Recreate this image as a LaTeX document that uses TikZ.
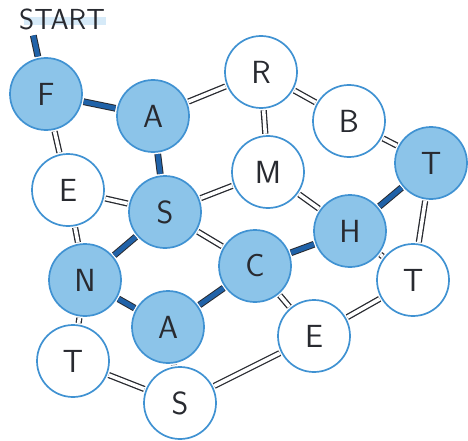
\documentclass[tikz,border=0pt]{standalone}
\usepackage{fontspec}
\definecolor{fillblue}{RGB}{140,196,233}
\definecolor{lineblue}{RGB}{64,146,210}
\definecolor{barblue}{RGB}{32,98,168}
\definecolor{ink}{RGB}{40,42,48}
\definecolor{hilite}{RGB}{214,234,248}
\tikzset{
  letter/.style={circle, minimum size=72pt, inner sep=0pt, draw=lineblue, line width=1.7pt,
    font=\fontsize{32}{32}\selectfont\sffamily, text=ink},
  onpath/.style={letter, fill=fillblue},
  offpath/.style={letter, fill=white},
  dbl/.style={draw=ink, line width=1.3pt, double=white, double distance=3.6pt,
    shorten <=1.5pt, shorten >=1.5pt},
  pathbar/.style={draw=ink, line width=1pt, double=barblue, double distance=4.8pt,
    shorten <=1.5pt, shorten >=1.5pt}
}
\begin{document}
\begin{tikzpicture}[x=1pt,y=-1pt]
\useasboundingbox (0,0) rectangle (468,441);
\fill[hilite] (24,17) rectangle (106,25);
\node[font=\fontsize{29}{29}\selectfont\sffamily, text=ink, inner sep=0pt] (start) at (62,19) {START};
\coordinate (s0) at (33,34);
% nodes
\node[onpath]  (F)  at (46,94)   {F};
\node[onpath]  (A1) at (153,116) {A};
\node[offpath] (R)  at (261,72)  {R};
\node[offpath] (B)  at (349,121) {B};
\node[onpath]  (T1) at (431,163) {T};
\node[offpath] (E1) at (68,190)  {E};
\node[onpath]  (S1) at (165,212) {S};
\node[offpath] (M)  at (268,172) {M};
\node[onpath]  (H)  at (350,231) {H};
\node[onpath]  (N)  at (85,280)  {N};
\node[onpath]  (C)  at (255,266) {C};
\node[offpath] (T2) at (413,280) {T};
\node[onpath]  (A2) at (168,327) {A};
\node[offpath] (E2) at (314,336) {E};
\node[offpath] (T3) at (73,361)  {T};
\node[offpath] (S2) at (180,403) {S};
% path connectors
\draw[pathbar] (s0) -- (F);
\draw[pathbar] (F) -- (A1);
\draw[pathbar] (A1) -- (S1);
\draw[pathbar] (S1) -- (N);
\draw[pathbar] (N) -- (A2);
\draw[pathbar] (A2) -- (C);
\draw[pathbar] (C) -- (H);
\draw[pathbar] (H) -- (T1);
% other connectors
\draw[dbl] (F) -- (E1);
\draw[dbl] (A1) -- (R);
\draw[dbl] (R) -- (M);
\draw[dbl] (R) -- (B);
\draw[dbl] (B) -- (T1);
\draw[dbl] (E1) -- (S1);
\draw[dbl] (E1) -- (N);
\draw[dbl] (S1) -- (M);
\draw[dbl] (S1) -- (C);
\draw[dbl] (M) -- (H);
\draw[dbl] (T1) -- (T2);
\draw[dbl] (H) -- (T2);
\draw[dbl] (C) -- (E2);
\draw[dbl] (T2) -- (E2);
\draw[dbl] (E2) -- (S2);
\draw[dbl] (A2) -- (S2);
\draw[dbl] (N) -- (T3);
\draw[dbl] (T3) -- (S2);
\end{tikzpicture}
\end{document}
